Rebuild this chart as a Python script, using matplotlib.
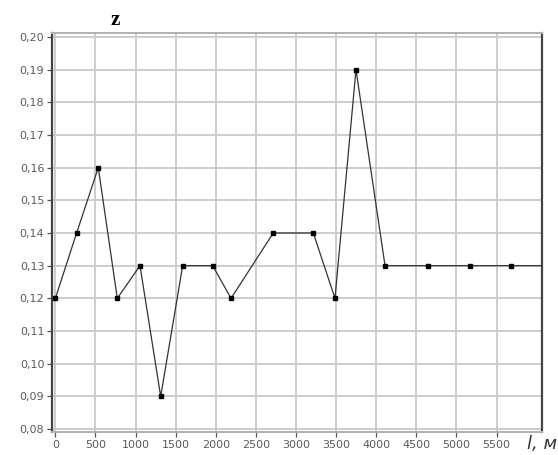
import matplotlib
matplotlib.use("Agg")
import matplotlib.pyplot as plt
from matplotlib.ticker import FuncFormatter

# distance along the profile, m, and z values
dist = [0, 265, 535, 772, 1055, 1313, 1587, 1961, 2190, 2717,
        3216, 3486, 3748, 4110, 4650, 5170, 5677]
z = [0.12, 0.14, 0.16, 0.12, 0.13, 0.09, 0.13, 0.13, 0.12, 0.14,
     0.14, 0.12, 0.19, 0.13, 0.13, 0.13, 0.13]
# line runs on to the right edge at the last level
line_end = 6067

x_ticks = list(range(0, 6000, 500))
y_ticks = [0.08, 0.09, 0.10, 0.11, 0.12, 0.13, 0.14, 0.15, 0.16, 0.17, 0.18, 0.19, 0.20]

fig = plt.figure(figsize=(5.58, 4.55), dpi=100)
ax = fig.add_axes([52 / 558, 1 - 432 / 455, 490 / 558, 399 / 455])

ax.plot(dist + [line_end], z + [z[-1]], color="#333333", lw=0.9,
        marker="s", ms=3.2, mfc="black", mec="black",
        markevery=list(range(len(dist))), zorder=3, clip_on=False)

ax.set_xlim(-42, line_end)
ax.set_ylim(0.0791, 0.2012)
ax.set_xticks(x_ticks)
ax.set_yticks(y_ticks)
ax.yaxis.set_major_formatter(FuncFormatter(lambda v, p: f"{v:.2f}".replace(".", ",")))

ax.grid(True, color="#cccccc", lw=1.4)
ax.set_axisbelow(True)

for side in ["left", "right"]:
    ax.spines[side].set_color("#444444")
    ax.spines[side].set_linewidth(1.6)
for side in ["top", "bottom"]:
    ax.spines[side].set_color("#b0b0b0")
    ax.spines[side].set_linewidth(1.4)

ax.tick_params(axis="both", labelsize=8, labelcolor="#5a5a5a", color="#555555",
               length=3.5, width=0.9, pad=2)

fig.text(0.206, 0.956, "z", fontsize=15, fontweight="bold",
         family="Liberation Serif", ha="center", va="center")
fig.text(0.972, 0.024, "l, м", fontsize=13, style="italic",
         color="#333333", ha="center", va="center")

fig.savefig("out.png", dpi=100)
